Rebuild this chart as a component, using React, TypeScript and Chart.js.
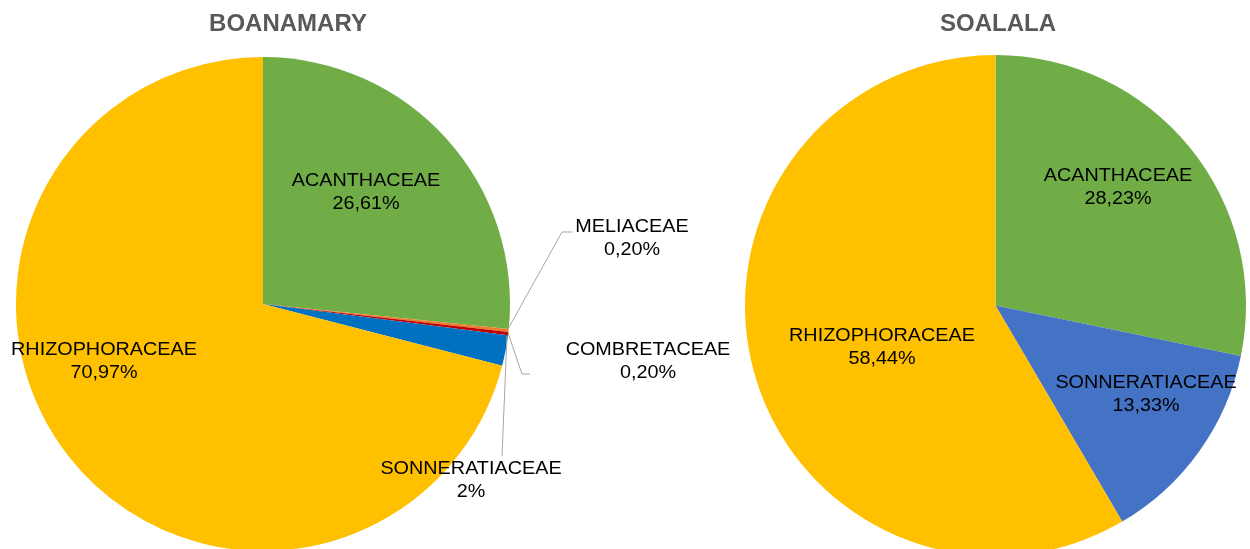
import React, { useEffect, useRef } from "react";
import { Chart, registerables } from "chart.js";

Chart.register(...registerables);

// ---- Data ----
const leftTitle = "BOANAMARY";
const leftCategories = ["ACANTHACEAE", "MELIACEAE", "COMBRETACEAE", "SONNERATIACEAE", "RHIZOPHORACEAE"];
const leftValues = [26.61, 0.2, 0.2, 2, 70.97];
const leftValueLabels = ["26,61%", "0,20%", "0,20%", "2%", "70,97%"];
const leftColors = ["#70AD47", "#ED7D31", "#C00000", "#0070C0", "#FFC000"];

const rightTitle = "SOALALA";
const rightCategories = ["ACANTHACEAE", "SONNERATIACEAE", "RHIZOPHORACEAE"];
const rightValues = [28.23, 13.33, 58.44];
const rightValueLabels = ["28,23%", "13,33%", "58,44%"];
const rightColors = ["#70AD47", "#4472C4", "#FFC000"];

// ---- Layout (label placements, canvas-local coords) ----
const leftLabelPos = [
  [366, 181],
  [632, 227],
  [648, 350],
  [471, 469],
  [104, 350],
];
const leftLeaders = [
  null,
  [[508, 329], [562, 232], [572, 232]],
  [[508, 333], [522, 374], [530, 374]],
  [[507, 336], [502, 456]],
  null,
];
const rightLabelPos = [
  [1118 - 625, 176],
  [1146 - 625, 383],
  [882 - 625, 336],
];

const FONT = "'Liberation Sans', Arial, sans-serif";

function drawStretched(ctx: CanvasRenderingContext2D, text: string, x: number, y: number) {
  ctx.save();
  ctx.translate(x, y);
  ctx.scale(1.1, 1);
  ctx.fillText(text, 0, 0);
  ctx.restore();
}

function makePlugin(title: string, titleX: number, cats: string[], vals: string[], pos: number[][], leaders: any[]) {
  return {
    id: "customLabels",
    afterDraw(chart: any) {
      const ctx: CanvasRenderingContext2D = chart.ctx;
      ctx.save();
      ctx.fillStyle = "#595959";
      ctx.font = `bold 24px ${FONT}`;
      ctx.textAlign = "center";
      ctx.textBaseline = "middle";
      ctx.fillText(title, titleX, 24);

      ctx.strokeStyle = "#A6A6A6";
      ctx.lineWidth = 1;
      leaders.forEach((l) => {
        if (!l) return;
        ctx.beginPath();
        ctx.moveTo(l[0][0], l[0][1]);
        for (let i = 1; i < l.length; i++) ctx.lineTo(l[i][0], l[i][1]);
        ctx.stroke();
      });

      ctx.fillStyle = "#000000";
      ctx.font = `18px ${FONT}`;
      cats.forEach((c, i) => {
        const [x, y] = pos[i];
        drawStretched(ctx, c, x, y);
        drawStretched(ctx, vals[i], x, y + 23);
      });
      ctx.restore();
    },
  };
}

function PieCanvas(props: {
  left: number;
  width: number;
  values: number[];
  labels: string[];
  colors: string[];
  padding: { left: number; right: number; top: number; bottom: number };
  plugin: any;
}) {
  const ref = useRef<HTMLCanvasElement>(null);
  useEffect(() => {
    const chart = new Chart(ref.current as HTMLCanvasElement, {
      type: "pie",
      data: {
        labels: props.labels,
        datasets: [
          {
            data: props.values,
            backgroundColor: props.colors,
            borderWidth: 0,
          },
        ],
      },
      options: {
        responsive: false,
        animation: false,
        devicePixelRatio: 1,
        layout: { padding: props.padding },
        plugins: {
          legend: { display: false },
          tooltip: { enabled: false },
          title: { display: false },
        },
      },
      plugins: [props.plugin],
    } as any);
    return () => chart.destroy();
  }, []);
  return (
    <canvas
      ref={ref}
      width={props.width}
      height={560}
      style={{ position: "absolute", left: props.left, top: 0, width: props.width, height: 560 }}
    />
  );
}

export default function App() {
  return (
    <div
      style={{
        position: "absolute",
        left: 0,
        top: 0,
        width: 1250,
        height: 549,
        overflow: "hidden",
        background: "#ffffff",
      }}
    >
      <PieCanvas
        left={0}
        width={760}
        values={leftValues}
        labels={leftCategories}
        colors={leftColors}
        padding={{ left: 16, right: 250, top: 57, bottom: 9 }}
        plugin={makePlugin(leftTitle, 288, leftCategories, leftValueLabels, leftLabelPos, leftLeaders)}
      />
      <PieCanvas
        left={625}
        width={625}
        values={rightValues}
        labels={rightCategories}
        colors={rightColors}
        padding={{ left: 120, right: 4, top: 55, bottom: 4 }}
        plugin={makePlugin(rightTitle, 373, rightCategories, rightValueLabels, rightLabelPos, [])}
      />
    </div>
  );
}
